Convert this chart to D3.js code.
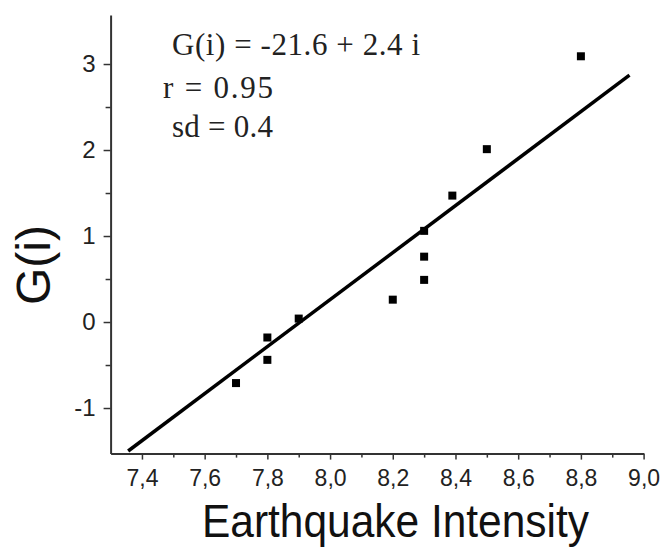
<!DOCTYPE html>
<html>
<head>
<meta charset="utf-8">
<script src="https://cdn.jsdelivr.net/npm/d3@7"></script>
<style>
  body { margin: 0; background: #fff; }
  .axis path, .axis line { stroke: #333; }
  .axis text { font-family: "Liberation Sans", Arial, sans-serif; fill: #222; }
  .note { font-family: "Liberation Serif", "Times New Roman", serif; fill: #222; }
</style>
</head>
<body>
<svg id="chart1"></svg>
<script>
// data
const intensity = [7.7, 7.8, 7.8, 7.9, 8.2, 8.3, 8.3, 8.3, 8.39, 8.5, 8.8];
const gValues = [-0.71, -0.18, -0.44, 0.04, 0.26, 0.49, 0.76, 1.06, 1.47, 2.01, 3.09];
// fitted line, end points as drawn
const fitX = [7.356, 8.955];
const fitY = [-1.5, 2.87];
const xTicks = [7.4, 7.6, 7.8, 8.0, 8.2, 8.4, 8.6, 8.8, 9.0];
const xMinor = [7.5, 7.7, 7.9, 8.1, 8.3, 8.5, 8.7, 8.9];
const yTicks = [-1, 0, 1, 2, 3];
const yMinor = [-0.5, 0.5, 1.5, 2.5];
const notes = ["G(i) = -21.6 + 2.4 i", "r = 0.95", "sd = 0.4"];

const width = 662;
const height = 548;

const xScale = d3.scaleLinear()
    .domain([7.3, 9.0])
    .range([110.6, 643.6]);

const yScale = d3.scaleLinear()
    .domain([-1.53, 3.57])
    .range([453.6, 15]);

const svg = d3.select("#chart1")
    .attr("width", width)
    .attr("height", height);

const commaFmt = d => d3.format(".1f")(d).replace(".", ",");

// x-axis
const xAxis = svg.append("g")
    .attr("class", "axis")
    .attr("transform", "translate(0," + yScale.range()[0] + ")")
    .call(d3.axisBottom(xScale).tickValues(xTicks).tickFormat(commaFmt)
        .tickSize(6).tickPadding(10).tickSizeOuter(0));
xAxis.select(".domain").attr("stroke-width", 2);
xAxis.selectAll(".tick line").attr("stroke-width", 1.5);
xAxis.selectAll("text").attr("font-size", 23);

svg.append("g")
    .attr("class", "axis")
    .attr("transform", "translate(0," + yScale.range()[0] + ")")
    .call(d3.axisBottom(xScale).tickValues(xMinor).tickFormat("").tickSize(4).tickSizeOuter(0))
    .call(g => g.select(".domain").remove())
    .selectAll(".tick line").attr("stroke-width", 1.5);

// y-axis
const yAxis = svg.append("g")
    .attr("class", "axis")
    .attr("transform", "translate(" + xScale.range()[0] + ",0)")
    .call(d3.axisLeft(yScale).tickValues(yTicks).tickFormat(d => d < 0 ? "-" + Math.abs(d) : d)
        .tickSize(7).tickPadding(8).tickSizeOuter(0));
yAxis.select(".domain").attr("stroke-width", 2);
yAxis.selectAll(".tick line").attr("stroke-width", 1.5);
yAxis.selectAll("text").attr("font-size", 24);

svg.append("g")
    .attr("class", "axis")
    .attr("transform", "translate(" + xScale.range()[0] + ",0)")
    .call(d3.axisLeft(yScale).tickValues(yMinor).tickFormat("").tickSize(5).tickSizeOuter(0))
    .call(g => g.select(".domain").remove())
    .selectAll(".tick line").attr("stroke-width", 1.5);

// regression line
const line = d3.line()
    .x(d => xScale(d[0]))
    .y(d => yScale(d[1]));

svg.append("path")
    .datum(d3.zip(fitX, fitY))
    .attr("d", line)
    .attr("fill", "none")
    .attr("stroke", "#000")
    .attr("stroke-width", 3.5);

// points
const sq = 8;
svg.selectAll(".dot")
    .data(d3.zip(intensity, gValues))
    .enter().append("rect")
    .attr("class", "dot")
    .attr("x", d => xScale(d[0]) - sq / 2)
    .attr("y", d => yScale(d[1]) - sq / 2)
    .attr("width", sq)
    .attr("height", sq)
    .attr("fill", "#000");

// fit annotation
const noteX = [172, 163, 172];
const noteY = [55, 98, 137];
const noteLen = [248, 110, 101];
svg.selectAll(".note")
    .data(notes)
    .enter().append("text")
    .attr("class", "note")
    .attr("x", (d, i) => noteX[i])
    .attr("y", (d, i) => noteY[i])
    .attr("font-size", 31)
    .attr("textLength", (d, i) => noteLen[i])
    .attr("lengthAdjust", "spacing")
    .text(d => d);

// text label for the x axis
svg.append("text")
    .attr("x", 202)
    .attr("y", 537)
    .attr("font-family", "Liberation Sans, Arial, sans-serif")
    .attr("font-size", 46)
    .attr("fill", "#111")
    .attr("textLength", 387)
    .attr("lengthAdjust", "spacingAndGlyphs")
    .text("Earthquake Intensity");

// text label for the y axis
svg.append("text")
    .attr("transform", "translate(50,265) rotate(-90)")
    .attr("text-anchor", "middle")
    .attr("font-family", "Liberation Sans, Arial, sans-serif")
    .attr("font-size", 48)
    .attr("fill", "#111")
    .text("G(i)");
</script>
</body>
</html>
